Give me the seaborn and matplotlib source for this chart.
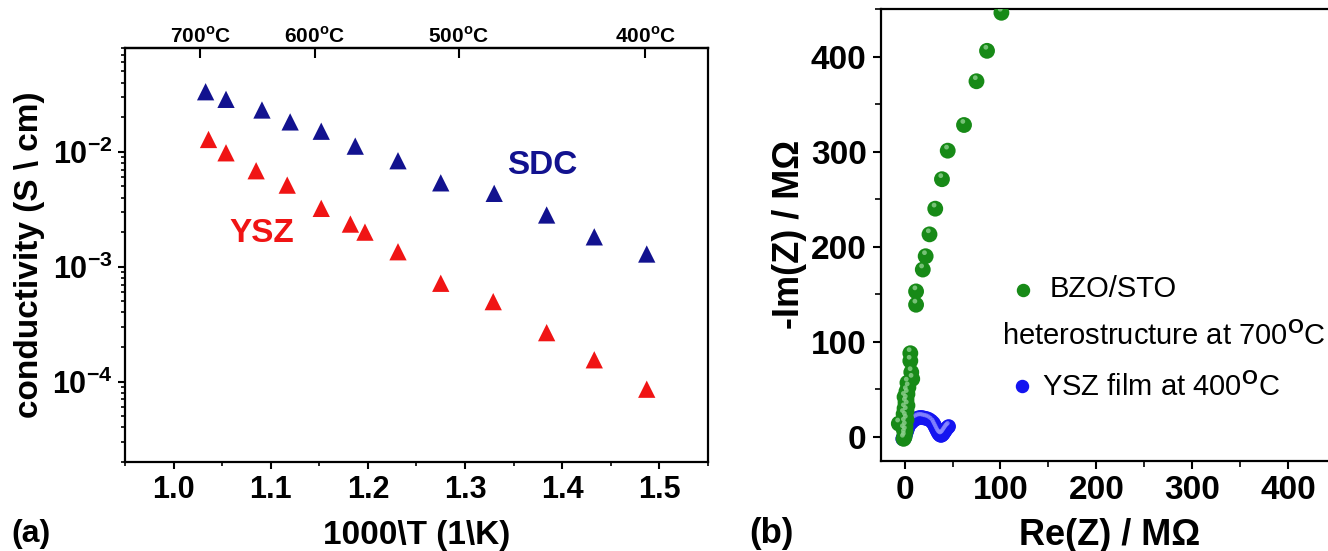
import numpy as np
import pandas as pd
import matplotlib
matplotlib.use("Agg")
import matplotlib.pyplot as plt
import seaborn as sns
from matplotlib.ticker import FixedLocator, MultipleLocator, FuncFormatter, LogLocator, NullFormatter, FormatStrFormatter
from matplotlib.path import Path
from matplotlib.markers import MarkerStyle

# ---------------- data: panel (a) ----------------
sdc_x = [1.033, 1.054, 1.091, 1.120, 1.152, 1.187, 1.231, 1.275, 1.330, 1.384, 1.433, 1.487]
sdc_y = [0.0333, 0.0286, 0.0231, 0.0182, 0.0151, 0.0112, 0.00836, 0.00537, 0.00435, 0.00282, 0.00182, 0.00129]
ysz_x = [1.036, 1.054, 1.085, 1.117, 1.152, 1.182, 1.197, 1.231, 1.275, 1.329, 1.384, 1.433, 1.487]
ysz_y = [0.0128, 0.0098, 0.00684, 0.00513, 0.00322, 0.00235, 0.00200, 0.00135, 0.000718, 0.000497, 0.000267, 0.000155, 0.000086]
top_temps_c = [700, 600, 500, 400]
x_ticks_a = [1.0, 1.1, 1.2, 1.3, 1.4, 1.5]
y_ticks_a = [1e-4, 1e-3, 1e-2]

# ---------------- data: panel (b) ----------------
bzo_re = [0, -1, 0, 1, -1, 1, -6, 0, 2, 1, -1, 2, 0, 3, 1, 2, 0, 3, 2, 4, 3, 8, 7, 6, 6,
          12, 12, 19, 22, 26, 32, 39, 45, 62, 75, 86, 101]
bzo_im = [0, -2, 3, 6, 8, 11, 14, 15, 18, 21, 24, 27, 30, 33, 36, 39, 42, 45, 48, 52, 57, 61, 68, 80, 88,
          139, 153, 176, 190, 213, 240, 271, 301, 328, 374, 406, 446]
yszf_re = [-2, -1, 0, 1, 2, 3, 4, 6, 8, 10, 12, 14, 16, 18, 20, 22, 24, 26, 28, 30,
           31, 32, 33, 34, 35, 36, 37, 38, 39, 40, 41, 42, 43, 44, 45, 46]
yszf_im = [-2, 0, -1, 2, 5, 8, 11, 14, 16, 18, 19, 20, 20.5, 20.5, 20, 19.5, 19, 18, 16.5, 14.5,
           12.5, 10.5, 8.5, 6.5, 4.5, 3, 2, 1.5, 2, 3, 4.5, 6, 7.5, 9, 10, 11]
ticks_b = [0, 100, 200, 300, 400]

# ---------------- style ----------------
sns.set_theme(style="ticks")
plt.rcParams["font.family"] = ["Liberation Sans", "DejaVu Sans"]
plt.rcParams["font.weight"] = "bold"
plt.rcParams["mathtext.fontset"] = "custom"
plt.rcParams["mathtext.rm"] = "Liberation Sans"
plt.rcParams["mathtext.bf"] = "Liberation Sans:bold"
plt.rcParams["axes.edgecolor"] = "black"
plt.rcParams["axes.labelcolor"] = "black"
plt.rcParams["text.color"] = "black"
plt.rcParams["axes.linewidth"] = 1.6
plt.rcParams["xtick.color"] = "black"
plt.rcParams["ytick.color"] = "black"
plt.rcParams["xtick.labelcolor"] = "black"
plt.rcParams["ytick.labelcolor"] = "black"

SDC_C = "#12128f"
YSZ_C = "#f01414"
GREEN = "#178a17"
BLUE = "#1414f0"

fig = plt.figure(figsize=(13.28, 5.51), dpi=100)
axa = fig.add_axes([0.0941, 0.1615, 0.439, 0.7514])
axb = fig.add_axes([0.6631, 0.1639, 0.3444, 0.8198])

# ---------------- panel (a) ----------------
df_a = pd.DataFrame({
    "x": sdc_x + ysz_x,
    "y": sdc_y + ysz_y,
    "mat": ["SDC"] * len(sdc_x) + ["YSZ"] * len(ysz_x),
})
sns.scatterplot(data=df_a, x="x", y="y", hue="mat", palette={"SDC": SDC_C, "YSZ": YSZ_C},
                marker="^", s=155, edgecolor="none", legend=False, ax=axa, zorder=3)
axa.set_yscale("log")
axa.set_xlim(0.95, 1.55)
axa.set_ylim(2e-5, 8e-2)
axa.xaxis.set_major_locator(FixedLocator(x_ticks_a))
axa.xaxis.set_minor_locator(MultipleLocator(0.05))
axa.xaxis.set_major_formatter(FormatStrFormatter("%.1f"))
axa.yaxis.set_major_locator(FixedLocator(y_ticks_a))
axa.yaxis.set_minor_locator(LogLocator(base=10, subs=np.arange(2, 10)))
axa.yaxis.set_minor_formatter(NullFormatter())
axa.yaxis.set_major_formatter(FuncFormatter(lambda v, p: r"$\mathbf{10^{%d}}$" % int(round(np.log10(v)))))
axa.tick_params(which="major", direction="out", length=5, width=1.5, labelsize=22, pad=4)
axa.tick_params(which="minor", direction="out", length=3, width=1.2)
axa.set_xlabel("1000\\T (1\\K)", fontsize=24, fontweight="bold", labelpad=11)
axa.set_ylabel("conductivity (S \\ cm)", fontsize=24, fontweight="bold", labelpad=5)

sec = axa.secondary_xaxis("top", functions=(lambda v: v, lambda v: v))
sec.set_xticks([1000.0 / (t + 273.15) for t in top_temps_c])
sec.set_xticklabels([r"%d$^{\mathbf{o}}$C" % t for t in top_temps_c])
sec.tick_params(direction="in", length=7, width=1.5, labelsize=15, pad=1)
sec.xaxis.set_minor_locator(FixedLocator([]))

axa.text(0.715, 0.715, "SDC", transform=axa.transAxes, color=SDC_C, fontsize=24,
         fontweight="bold", ha="center", va="center")
axa.text(0.235, 0.551, "YSZ", transform=axa.transAxes, color=YSZ_C, fontsize=24,
         fontweight="bold", ha="center", va="center")

# ---------------- panel (b) ----------------
circ = Path.unit_circle()
hl_verts = np.concatenate([[[1.0, 0.0]], circ.vertices * 0.30 + np.array([-0.15, 0.45])])
hl_codes = np.concatenate([[Path.MOVETO], circ.codes])
hl_marker = MarkerStyle(Path(hl_verts, hl_codes))

df_blue = pd.DataFrame({"re": yszf_re, "im": yszf_im})
df_green = pd.DataFrame({"re": bzo_re, "im": bzo_im})
sns.scatterplot(data=df_blue, x="re", y="im", color=BLUE, s=110, edgecolor="none", ax=axb, zorder=3)
sns.scatterplot(data=df_blue, x="re", y="im", color="#8c8cff", s=110, marker=hl_marker,
                edgecolor="none", alpha=0.7, ax=axb, zorder=3)
sns.scatterplot(data=df_green, x="re", y="im", color=GREEN, s=130, edgecolor="none", ax=axb, zorder=4)
sns.scatterplot(data=df_green, x="re", y="im", color="#8fd08f", s=130, marker=hl_marker,
                edgecolor="none", alpha=0.8, ax=axb, zorder=4)

axb.set_xlim(-25, 452)
axb.set_ylim(-25, 450)
axb.xaxis.set_major_locator(FixedLocator(ticks_b))
axb.yaxis.set_major_locator(FixedLocator(ticks_b))
axb.xaxis.set_minor_locator(MultipleLocator(50))
axb.yaxis.set_minor_locator(MultipleLocator(50))
axb.tick_params(which="major", direction="out", length=6, width=1.5, labelsize=24, pad=4)
axb.tick_params(which="minor", direction="out", length=4, width=1.2)
axb.set_xlabel("Re(Z) / M\u03a9", fontsize=26, fontweight="bold", labelpad=9)
axb.set_ylabel("-Im(Z) / M\u03a9", fontsize=26, fontweight="bold", labelpad=3)

# legend glyphs and texts
axb.scatter([0.3113], [0.378], transform=axb.transAxes, s=75, color=GREEN, clip_on=False, zorder=5)
axb.scatter([0.309], [0.1654], transform=axb.transAxes, s=75, color=BLUE, clip_on=False, zorder=5)
axb.text(0.370, 0.3624, "BZO/STO", transform=axb.transAxes, fontsize=21, fontweight="normal",
         ha="left", va="baseline")
axb.text(0.2654, 0.2561, r"heterostructure at 700$^{\mathrm{O}}$C", transform=axb.transAxes,
         fontsize=21, fontweight="normal", ha="left", va="baseline")
axb.text(0.353, 0.1432, r"YSZ film at 400$^{\mathrm{O}}$C", transform=axb.transAxes,
         fontsize=21, fontweight="normal", ha="left", va="baseline")

fig.text(11.5 / 1328, 1 - 534 / 551, "(a)", fontsize=23, fontweight="bold", ha="left", va="center")
fig.text(749 / 1328, 1 - 534 / 551, "(b)", fontsize=25, fontweight="bold", ha="left", va="center")

fig.savefig("out.png", dpi=100)
